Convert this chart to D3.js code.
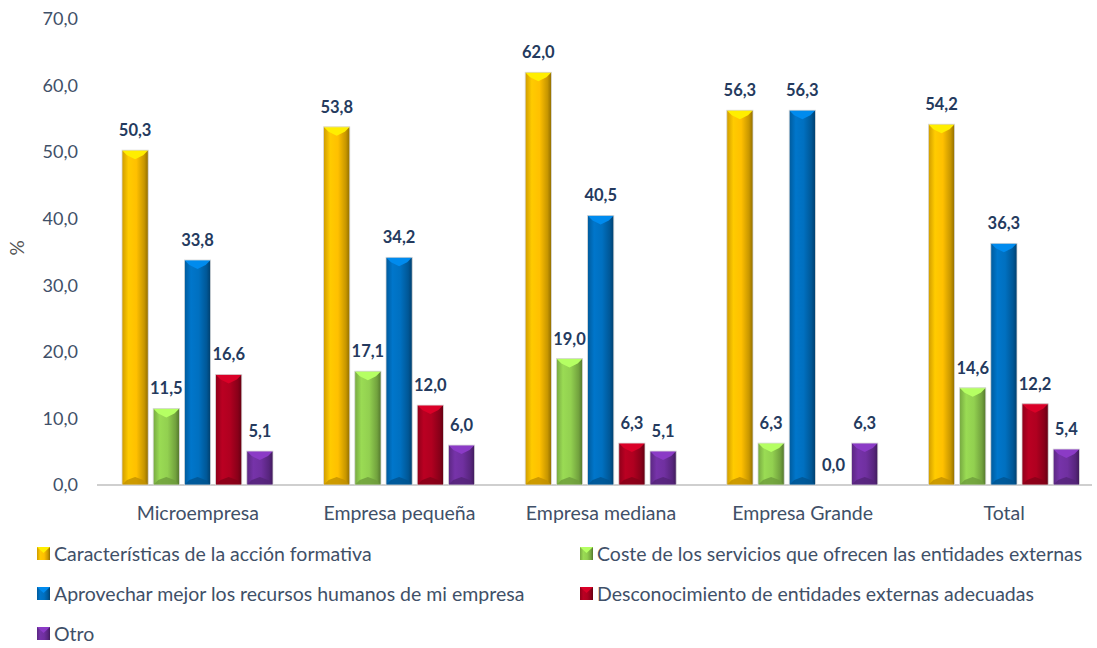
<!DOCTYPE html>
<html>
<head>
<meta charset="utf-8">
<script src="https://cdn.jsdelivr.net/npm/d3@7"></script>
<style>
  body { margin: 0; background: #fff; }
  text { font-family: Lato, "Open Sans", sans-serif; }
</style>
</head>
<body>
<svg id="chart"></svg>
<script>
var categories = ["Microempresa", "Empresa pequeña", "Empresa mediana", "Empresa Grande", "Total"];
var series = [
  "Características de la acción formativa",
  "Coste de los servicios que ofrecen las entidades externas",
  "Aprovechar mejor los recursos humanos de mi empresa",
  "Desconocimiento de entidades externas adecuadas",
  "Otro"
];
var caracteristicas = [50.3, 53.8, 62.0, 56.3, 54.2];
var coste = [11.5, 17.1, 19.0, 6.3, 14.6];
var aprovechar = [33.8, 34.2, 40.5, 56.3, 36.3];
var desconocimiento = [16.6, 12.0, 6.3, 0.0, 12.2];
var otro = [5.1, 6.0, 5.1, 6.3, 5.4];
var yTicks = [0, 10, 20, 30, 40, 50, 60, 70];

var values = [caracteristicas, coste, aprovechar, desconocimiento, otro];
var colors = ["#FFC000", "#92D050", "#0070C0", "#B00020", "#7030A0"];

var width = 1097, height = 648;
var svg = d3.select("#chart").attr("width", width).attr("height", height);

var x0 = d3.scaleBand().domain(categories).range([97, 1105]);
var x1 = d3.scaleBand().domain(d3.range(series.length))
  .range([25, 176]).paddingInner(0.16);
var y = d3.scaleLinear().domain([0, 70]).range([485, 19]);

var fmt = function(v) { return d3.format(".1f")(v).replace(".", ","); };

// gradients per colour
var defs = svg.append("defs");
colors.forEach(function(c, i) {
  var g = defs.append("linearGradient").attr("id", "grad" + i)
    .attr("x1", "0").attr("x2", "1").attr("y1", "0").attr("y2", "0");
  var base = d3.color(c);
  g.append("stop").attr("offset", "0").attr("stop-color", base.darker(0.6));
  g.append("stop").attr("offset", "0.25").attr("stop-color", base.brighter(0.15));
  g.append("stop").attr("offset", "0.55").attr("stop-color", base);
  g.append("stop").attr("offset", "0.85").attr("stop-color", base.darker(0.7));
  g.append("stop").attr("offset", "1").attr("stop-color", base.darker(1.6));
});

// y axis tick labels
svg.append("g").selectAll("text")
    .data(yTicks)
  .enter().append("text")
    .attr("x", 78)
    .attr("y", function(d) { return y(d); })
    .attr("dy", "0.35em")
    .attr("text-anchor", "end")
    .style("font-size", "18px")
    .style("fill", "#3F5068")
    .text(fmt);

svg.append("text")
  .attr("transform", "translate(24,248) rotate(-90)")
  .attr("text-anchor", "middle")
  .style("font-size", "19px")
  .style("fill", "#555")
  .text("%");

// baseline
svg.append("line")
  .attr("x1", 97).attr("x2", 1092)
  .attr("y1", y(0)).attr("y2", y(0))
  .style("stroke", "#BFBFBF").style("stroke-width", 1.5);

// category labels
svg.append("g").selectAll("text")
    .data(categories)
  .enter().append("text")
    .attr("x", function(d) { return x0(d) + x0.bandwidth() / 2; })
    .attr("y", 520)
    .attr("text-anchor", "middle")
    .style("font-size", "19.5px")
    .style("fill", "#3F5068")
    .text(function(d) { return d; });

// bars
var bars = [];
categories.forEach(function(c, ci) {
  values.forEach(function(vals, si) {
    bars.push({ cat: c, s: si, v: vals[ci] });
  });
});

var gBars = svg.append("g");
bars.forEach(function(d) {
  var bx = x0(d.cat) + x1(d.s), bw = x1.bandwidth();
  var top = y(d.v), bottom = y(0), h = bottom - top;
  var base = d3.color(colors[d.s]);
  if (h > 0) {
    var b = Math.min(5, h / 2);
    var g = gBars.append("g");
    g.append("rect")
      .attr("x", bx).attr("y", top).attr("width", bw).attr("height", h)
      .style("fill", "url(#grad" + d.s + ")");
    // top bevel (light chevron)
    g.append("polygon")
      .attr("points", [[bx, top], [bx + bw, top], [bx + bw - b, top + b],
        [bx + bw / 2, top + b + 4], [bx + b, top + b]].join(" "))
      .style("fill", base.brighter(0.6));
    // bottom bevel (dark)
    g.append("polygon")
      .attr("points", [[bx, bottom], [bx + bw, bottom], [bx + bw - b, bottom - b],
        [bx + bw / 2, bottom - b - 3], [bx + b, bottom - b]].join(" "))
      .style("fill", base.darker(0.8)).style("opacity", 0.8);
    g.append("rect")
      .attr("x", bx).attr("y", top).attr("width", bw).attr("height", h)
      .style("fill", "none").style("stroke", "#d9d9d9").style("stroke-width", 0.8);
  }
  gBars.append("text")
    .attr("x", bx + bw / 2)
    .attr("y", top - 14)
    .attr("text-anchor", "middle")
    .style("font-size", "16.5px")
    .style("font-weight", "bold")
    .style("fill", "#243A5E")
    .text(fmt(d.v));
});

// legend
var legendPos = [[37, 554], [580, 554], [37, 594], [580, 594], [37, 634]];
var legend = svg.append("g").selectAll("g")
    .data(series)
  .enter().append("g")
    .attr("transform", function(d, i) { return "translate(" + legendPos[i][0] + "," + legendPos[i][1] + ")"; });

legend.append("rect")
  .attr("x", 0).attr("y", -7).attr("width", 13).attr("height", 13)
  .style("fill", function(d, i) { return "url(#grad" + i + ")"; });
legend.append("polygon")
  .attr("points", "0,-7 13,-7 6.5,-1")
  .style("fill", function(d, i) { return d3.color(colors[i]).brighter(0.6); });
legend.append("text")
  .attr("x", 17).attr("y", 0).attr("dy", "0.35em")
  .style("font-size", "19.5px")
  .style("fill", "#3F5068")
  .text(function(d) { return d; });
</script>
</body>
</html>
